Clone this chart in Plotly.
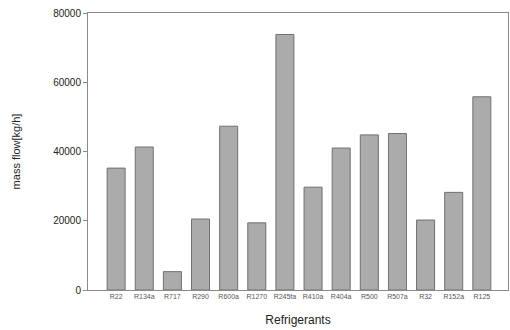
import plotly.graph_objects as go

categories = ["R22", "R134a", "R717", "R290", "R600a", "R1270", "R245fa", "R410a",
              "R404a", "R500", "R507a", "R32", "R152a", "R125"]
mass_flow = [35200, 41300, 5300, 20500, 47300, 19400, 73800, 29700,
             41000, 44800, 45200, 20200, 28200, 55800]
y_ticks = [0, 20000, 40000, 60000, 80000]

fig = go.Figure()
fig.add_trace(go.Bar(
    x=categories, y=mass_flow, width=0.64,
    marker=dict(color="#ababab", line=dict(color="#707070", width=1)),
))
fig.update_layout(
    width=510, height=330,
    margin=dict(l=88, r=2, t=13, b=40),
    paper_bgcolor="white", plot_bgcolor="white",
    font=dict(family="Liberation Sans, Arial, sans-serif", color="#222"),
    showlegend=False,
)
fig.update_xaxes(
    range=[-1.0, 13.93], showline=True, linecolor="#8a8a8a", linewidth=1, mirror=True,
    showgrid=False, ticks="", tickfont=dict(size=7, color="#555"),
    title=dict(text="Refrigerants", font=dict(size=12, color="#222"), standoff=16),
)
fig.update_yaxes(
    range=[0, 80000], tickvals=y_ticks, tickformat="d", showline=True, linecolor="#8a8a8a",
    linewidth=1, mirror=True, showgrid=False, zeroline=False, ticks="outside", ticklen=4,
    tickcolor="#8a8a8a", tickfont=dict(size=10, color="#222"),
    title=dict(text="mass flow[kg/h]", font=dict(size=11, color="#222"), standoff=30),
)
fig.write_html("out.html")
